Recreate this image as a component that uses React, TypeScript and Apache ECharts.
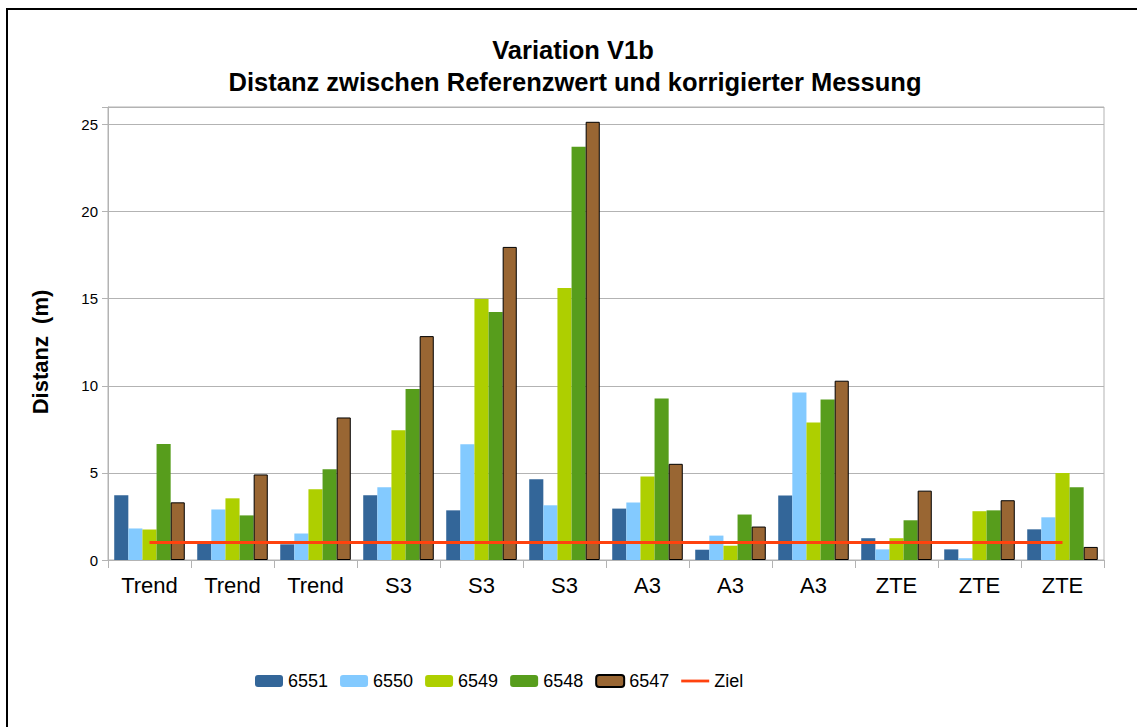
import React, { useEffect, useRef } from "react";
import * as echarts from "echarts";

const categories = ["Trend", "Trend", "Trend", "S3", "S3", "S3", "A3", "A3", "A3", "ZTE", "ZTE", "ZTE"];
const s6551 = [3.71, 0.95, 0.9, 3.72, 2.85, 4.64, 2.95, 0.59, 3.70, 1.25, 0.61, 1.76];
const s6550 = [1.81, 2.90, 1.52, 4.18, 6.65, 3.14, 3.30, 1.40, 9.62, 0.61, 0.10, 2.45];
const s6549 = [1.75, 3.54, 4.06, 7.45, 14.98, 15.61, 4.79, 0.82, 7.89, 1.25, 2.80, 5.0];
const s6548 = [6.66, 2.56, 5.21, 9.81, 14.23, 23.72, 9.27, 2.61, 9.21, 2.28, 2.85, 4.18];
const s6547 = [3.31, 4.91, 8.18, 12.85, 17.97, 25.15, 5.52, 1.92, 10.29, 3.98, 3.43, 0.75];
const ziel = [1, 1, 1, 1, 1, 1, 1, 1, 1, 1, 1, 1];

const titleLine1 = "Variation V1b";
const titleLine2 = "Distanz zwischen Referenzwert und korrigierter Messung";
const yAxisTitle = "Distanz  (m)";

const FONT = "'Liberation Sans', Arial, sans-serif";
const GRID = "#b3b3b3";

export default function App() {
  const ref = useRef<HTMLDivElement>(null);
  useEffect(() => {
    if (!ref.current) return;
    const chart = echarts.init(ref.current, undefined, { renderer: "svg" });
    const bar = (name: string, data: number[], color: string, border = false) => ({
      name,
      type: "bar",
      data,
      barGap: "0%",
      barCategoryGap: "15%",
      itemStyle: border
        ? { color, borderColor: "#000", borderWidth: 1 }
        : { color },
    });
    chart.setOption({
      animation: false,
      backgroundColor: "#fff",
      textStyle: { fontFamily: FONT },
      grid: {
        left: 108,
        right: 33,
        top: 107,
        bottom: 167,
        show: true,
        borderColor: GRID,
        borderWidth: 1,
      },
      legend: {
        left: 250,
        top: 667,
        itemWidth: 28,
        itemHeight: 12,
        itemGap: 12,
        textStyle: { fontSize: 18, color: "#000", fontFamily: FONT },
        data: [
          "6551",
          "6550",
          "6549",
          "6548",
          "6547",
          { name: "Ziel", icon: "path://M0,0L30,0L30,3L0,3Z" },
        ],
      },
      xAxis: {
        type: "category",
        data: categories,
        axisLine: { show: true, lineStyle: { color: GRID } },
        axisTick: { show: true, length: 8, lineStyle: { color: GRID } },
        axisLabel: { interval: 0, fontSize: 22, color: "#000", margin: 14, fontFamily: FONT },
      },
      yAxis: {
        type: "value",
        min: 0,
        max: 26,
        interval: 5,
        axisLine: { show: true, lineStyle: { color: GRID } },
        axisTick: { show: true, length: 6, lineStyle: { color: GRID } },
        axisLabel: {
          fontSize: 15,
          color: "#000",
          margin: 10,
          fontFamily: FONT,
          formatter: (v: number) => (v === 26 ? "" : String(v)),
        },
        splitLine: { show: true, lineStyle: { color: GRID } },
      },
      series: [
        bar("6551", s6551, "#336699"),
        bar("6550", s6550, "#83caff"),
        bar("6549", s6549, "#aecf00"),
        bar("6548", s6548, "#579d1c"),
        bar("6547", s6547, "#996633", true),
        {
          name: "Ziel",
          type: "line",
          data: ziel,
          symbol: "none",
          z: 5,
          itemStyle: { color: "#ff420e" },
          lineStyle: { color: "#ff420e", width: 3 },
        },
      ],
      graphic: [
        {
          type: "rect",
          shape: { x: 7, y: 9, width: 1300, height: 900 },
          style: { fill: "none", stroke: "#000", lineWidth: 2 },
          silent: true,
        },
        {
          type: "text",
          x: 573,
          y: 50,
          style: {
            text: titleLine1,
            fontSize: 25.5,
            fontWeight: "bold",
            fontFamily: FONT,
            fill: "#000",
            align: "center",
            verticalAlign: "middle",
          },
        },
        {
          type: "text",
          x: 575,
          y: 82,
          style: {
            text: titleLine2,
            fontSize: 25.5,
            fontWeight: "bold",
            fontFamily: FONT,
            fill: "#000",
            align: "center",
            verticalAlign: "middle",
          },
        },
        {
          type: "text",
          x: 40,
          y: 352,
          rotation: Math.PI / 2,
          style: {
            text: yAxisTitle,
            fontSize: 22,
            fontWeight: "bold",
            fontFamily: FONT,
            fill: "#000",
            align: "center",
            verticalAlign: "middle",
          },
        },
      ],
    });
    return () => chart.dispose();
  }, []);
  return (
    <div
      ref={ref}
      style={{ position: "fixed", left: 0, top: 0, width: 1137, height: 727 }}
    />
  );
}
